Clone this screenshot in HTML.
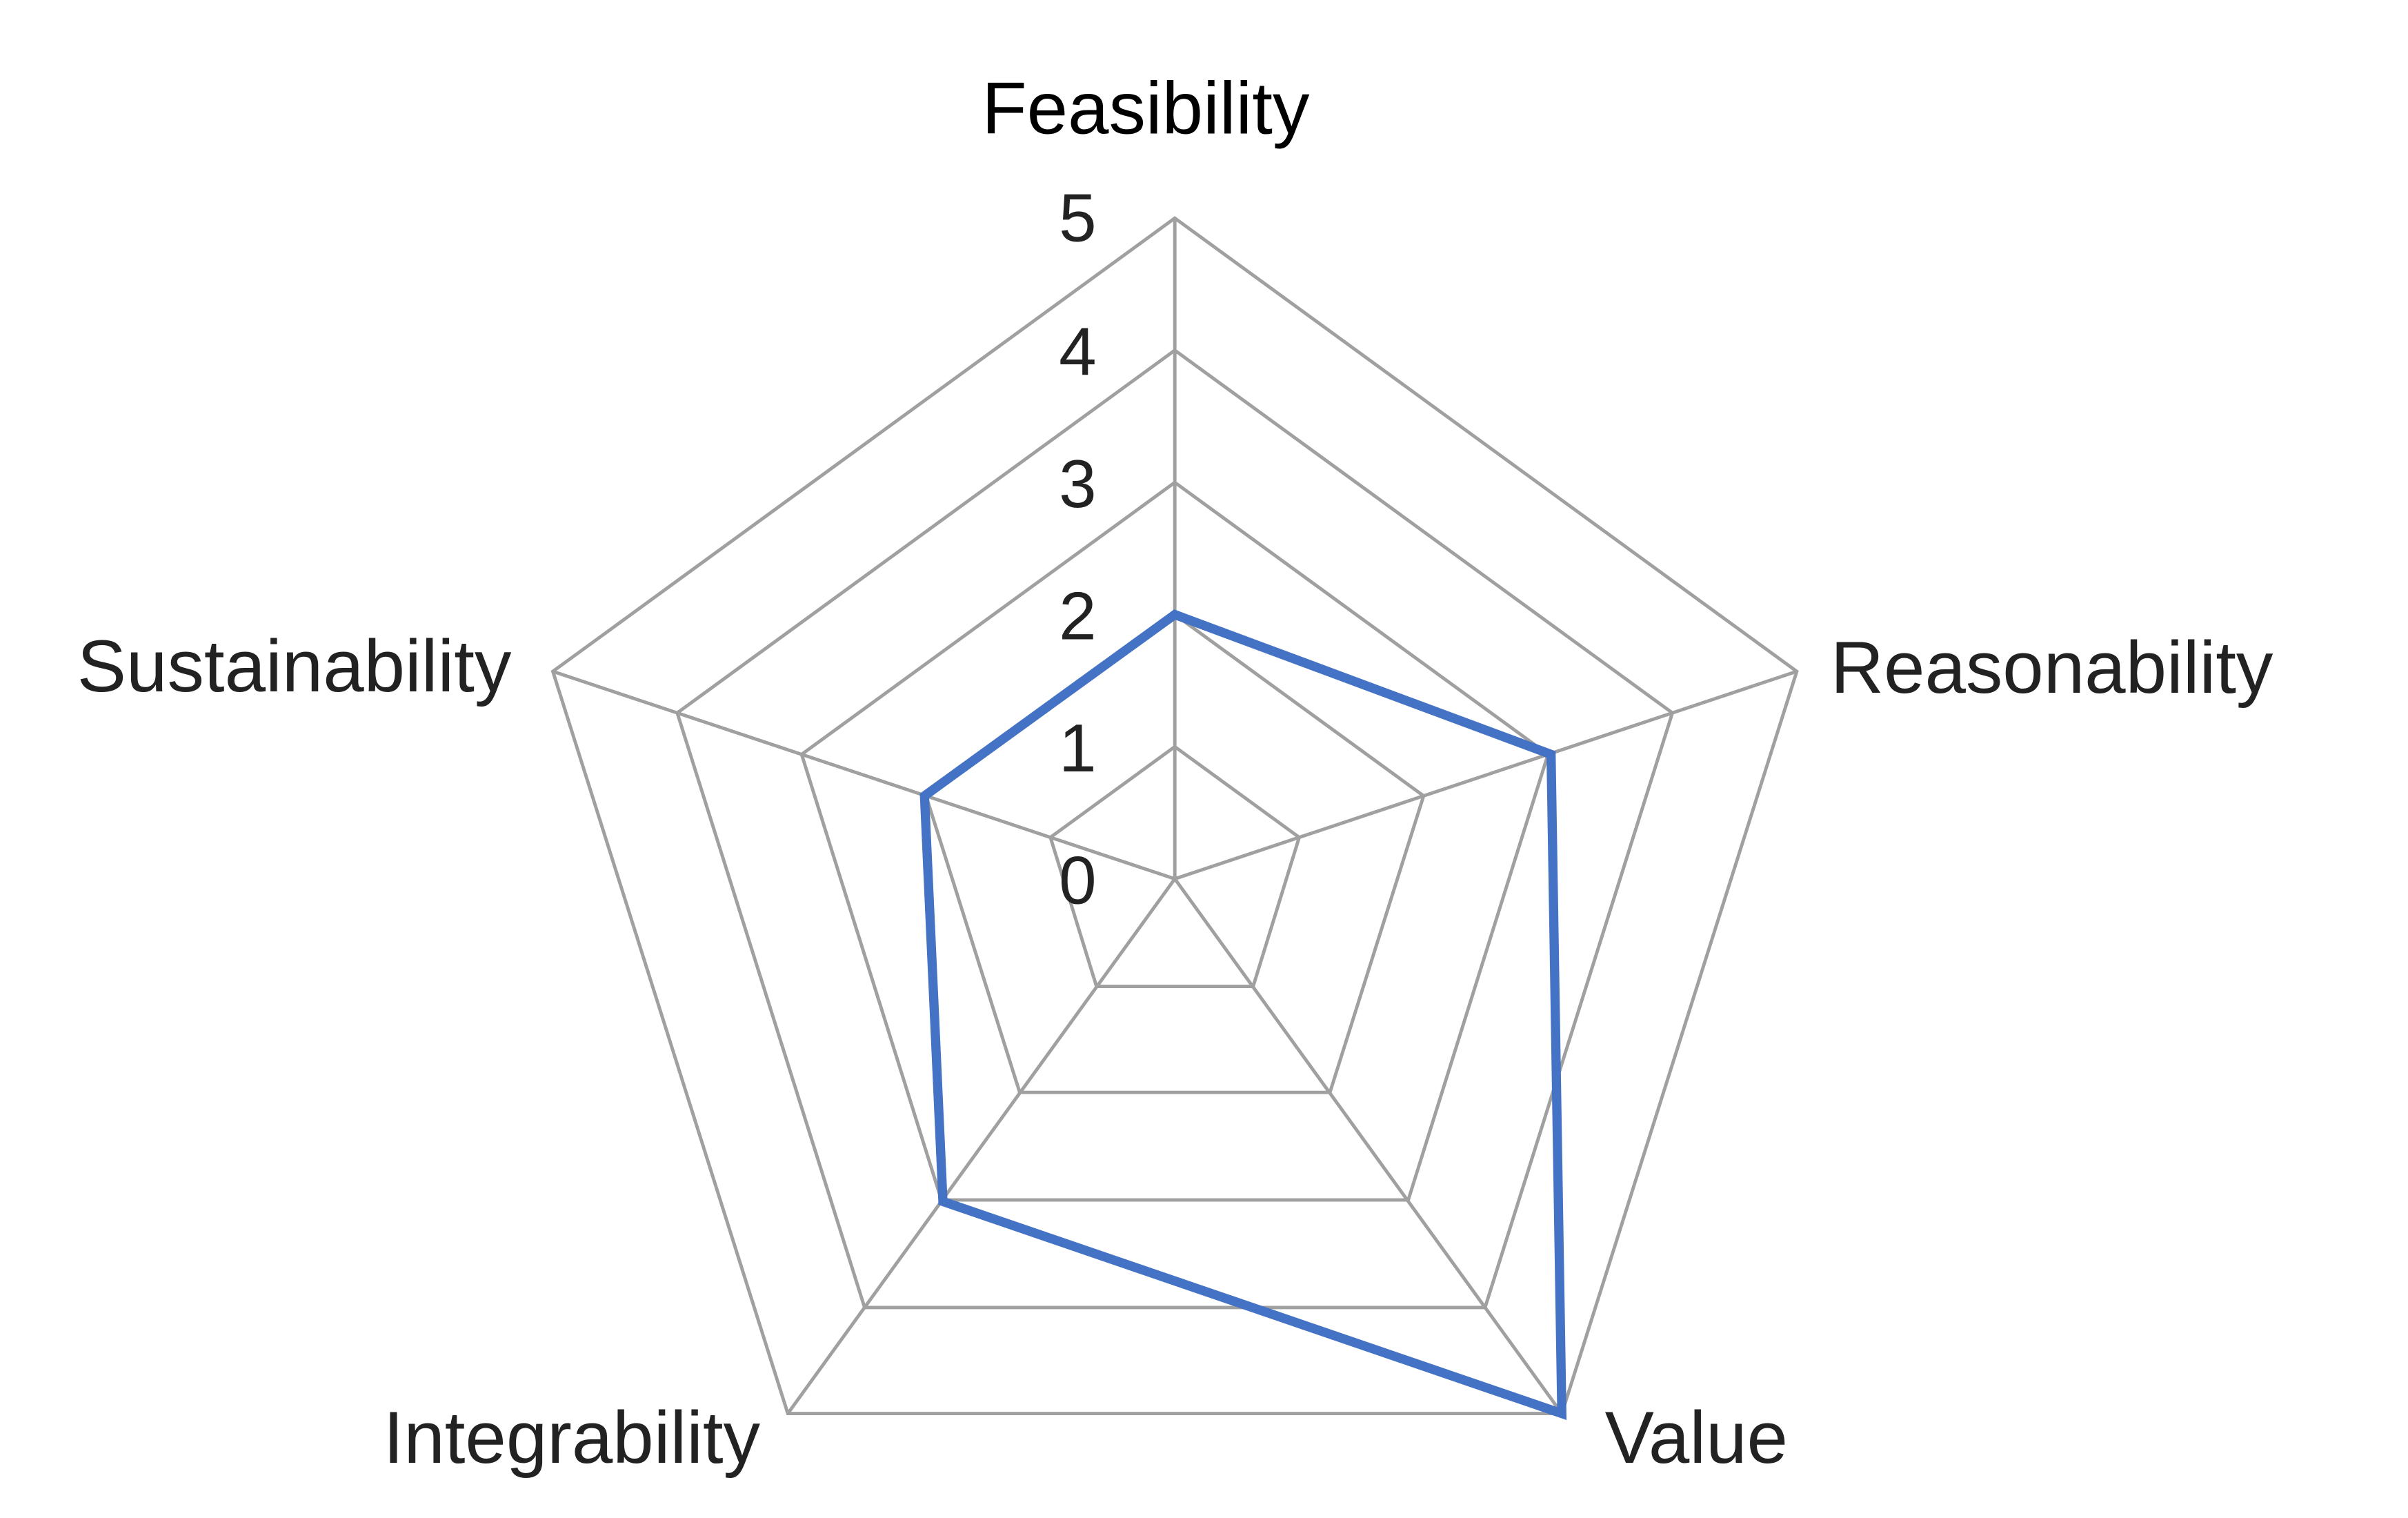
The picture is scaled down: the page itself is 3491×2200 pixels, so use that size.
<!DOCTYPE html>
<html><head><meta charset="utf-8"><style>
html,body{margin:0;padding:0;background:#fff;}
svg{display:block;}
text{font-family:"Liberation Sans",Arial,sans-serif;fill:#222;}
</style></head><body>
<svg width="3491" height="2200" viewBox="0 0 1568 988" preserveAspectRatio="none" xmlns="http://www.w3.org/2000/svg">
<g fill="none" stroke="#a0a0a0" stroke-width="2.2">
<polygon points="765,142 1170,437 1017,920 513,920 360,437"/>
<polygon points="765,228 1089,464 967,851 563,851 441,464"/>
<polygon points="765,314 1008,491 917,781 613,781 522,491"/>
<polygon points="765,400 927,518 866,711 664,711 603,518"/>
<polygon points="765,486 846,545 816,642 714,642 684,545"/>
<line x1="765" y1="572" x2="765" y2="142"/>
<line x1="765" y1="572" x2="1170" y2="437"/>
<line x1="765" y1="572" x2="1017" y2="920"/>
<line x1="765" y1="572" x2="513" y2="920"/>
<line x1="765" y1="572" x2="360" y2="437"/>
</g>
<polygon points="765,400 1010,491 1017,920 614,782 602,518" fill="none" stroke="#4472c4" stroke-width="6" stroke-linejoin="miter"/>
<g font-size="44" text-anchor="end">
<text x="714" y="157">5</text>
<text x="714" y="244">4</text>
<text x="714" y="330">3</text>
<text x="714" y="416">2</text>
<text x="714" y="502">1</text>
<text x="714" y="588">0</text>
</g>
<g font-size="48">
<text x="746" y="87" text-anchor="middle" style="fill:#000">Feasibility</text>
<text x="1192" y="451">Reasonability</text>
<text x="333" y="450" text-anchor="end">Sustainability</text>
<text x="495" y="952" text-anchor="end">Integrability</text>
<text x="1045" y="952">Value</text>
</g>
</svg>
</body></html>
